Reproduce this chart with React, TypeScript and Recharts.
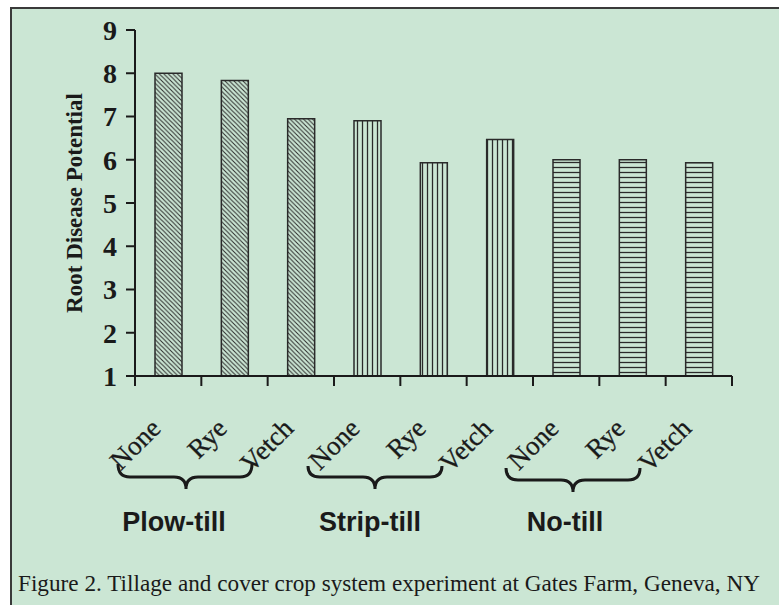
import React from 'react';
import { BarChart, Bar, XAxis, YAxis, Cell } from 'recharts';

// ---- data ----
const tillageSystems = ['Plow-till', 'Strip-till', 'No-till'];
const coverCrops = ['None', 'Rye', 'Vetch'];
const plowTillValues = [8.0, 7.83, 6.95];
const stripTillValues = [6.9, 5.93, 6.47];
const noTillValues = [6.0, 6.0, 5.93];
const yTicks = [1, 2, 3, 4, 5, 6, 7, 8, 9];
const yAxisTitle = 'Root Disease Potential';
const caption = 'Figure 2. Tillage and cover crop system experiment at Gates Farm, Geneva, NY';

const seriesByTillage = [plowTillValues, stripTillValues, noTillValues];
const patternIds = ['patDiag', 'patVert', 'patHoriz'];

const data = tillageSystems.flatMap((t, ti) =>
  coverCrops.map((c, ci) => ({
    key: `${t}|${c}`,
    crop: c,
    value: seriesByTillage[ti][ci],
    pattern: patternIds[ti],
  }))
);

// ---- layout ----
const W = 779;
const H = 605;
const PLOT_LEFT = 135;
const PLOT_RIGHT = 732;
const PLOT_TOP = 30;
const PLOT_BOTTOM = 376;
const Y_AXIS_W = 60;
const BAND = (PLOT_RIGHT - PLOT_LEFT) / data.length;
const INK = '#1a1a1a';
const BG = '#cbe6d4';

const lastKey = data[data.length - 1].key;

const XTick = (props: any) => {
  const { x, y, payload } = props;
  const crop = String(payload.value).split('|')[1];
  const half = BAND / 2;
  const tx = x - 6;
  const ty = y + 54;
  return (
    <g>
      <line x1={x - half} y1={y} x2={x - half} y2={y + 10} stroke={INK} strokeWidth={2} />
      {payload.value === lastKey && (
        <line x1={x + half} y1={y} x2={x + half} y2={y + 10} stroke={INK} strokeWidth={2} />
      )}
      <text
        x={tx}
        y={ty}
        transform={`rotate(-45 ${tx} ${ty})`}
        textAnchor="end"
        fontFamily="'Liberation Serif', 'DejaVu Serif', serif"
        fontSize={27}
        stroke={INK}
        strokeWidth={0.3}
        fill={INK}
      >
        {crop}
      </text>
    </g>
  );
};

const braces = [
  { x0: 118, x1: 252, cx: 186, yEnd: 464, yh: 477, tip: 489 },
  { x0: 308, x1: 442, cx: 375, yEnd: 466, yh: 477, tip: 489 },
  { x0: 506, x1: 640, cx: 573, yEnd: 468, yh: 480, tip: 492 },
];
const groupLabelX = [174, 370, 565];

const bracePath = (b: any) => {
  const r = 12;
  return `M ${b.x0} ${b.yEnd} Q ${b.x0} ${b.yh} ${b.x0 + r} ${b.yh} L ${b.cx - r} ${b.yh} Q ${b.cx} ${b.yh} ${b.cx} ${b.tip} Q ${b.cx} ${b.yh} ${b.cx + r} ${b.yh} L ${b.x1 - r} ${b.yh} Q ${b.x1} ${b.yh} ${b.x1} ${b.yEnd}`;
};

export default function App() {
  return (
    <div style={{ position: 'absolute', left: 0, top: 0, width: W, height: H, background: '#fff', overflow: 'hidden' }}>
      <div
        style={{
          position: 'absolute',
          left: 10,
          top: 7,
          width: W,
          height: H,
          background: BG,
          borderLeft: '2px solid #3a3a3a',
          borderTop: '2px solid #3a3a3a',
        }}
      />
      <div style={{ position: 'absolute', left: 0, top: 0 }}>
        <BarChart
          width={W}
          height={H}
          data={data}
          margin={{ top: PLOT_TOP, right: W - PLOT_RIGHT, bottom: 0, left: PLOT_LEFT - Y_AXIS_W }}
          barSize={27}
        >
          <defs>
            <pattern id="patDiag" patternUnits="userSpaceOnUse" width={4.5} height={4.5}>
              <path d="M0,0 L4.5,4.5 M-1,3.5 L1,5.5 M3.5,-1 L5.5,1" stroke="#2a2a2a" strokeWidth={1} />
            </pattern>
            <pattern id="patVert" patternUnits="userSpaceOnUse" width={5} height={5}>
              <line x1={2.5} y1={0} x2={2.5} y2={5} stroke="#2a2a2a" strokeWidth={1.3} />
            </pattern>
            <pattern id="patHoriz" patternUnits="userSpaceOnUse" width={5} height={5}>
              <line x1={0} y1={2.5} x2={5} y2={2.5} stroke="#2a2a2a" strokeWidth={1.3} />
            </pattern>
          </defs>
          <XAxis
            dataKey="key"
            height={H - PLOT_BOTTOM}
            interval={0}
            tickLine={false}
            tickSize={0}
            tickMargin={0}
            axisLine={{ stroke: INK, strokeWidth: 2 }}
            tick={<XTick />}
          />
          <XAxis xAxisId="top" dataKey="key" orientation="top" height={0} tick={false} tickLine={false} axisLine={{ stroke: INK, strokeWidth: 2 }} />
          <YAxis
            width={Y_AXIS_W}
            domain={[1, 9]}
            ticks={yTicks}
            interval={0}
            tickSize={9}
            tickMargin={9}
            axisLine={{ stroke: INK, strokeWidth: 2 }}
            tickLine={{ stroke: INK, strokeWidth: 2 }}
            tick={{ fontFamily: "'Liberation Serif', serif", fontSize: 28, fontWeight: 'bold', fill: INK }}
          />
          <YAxis yAxisId="right" orientation="right" width={0} domain={[1, 9]} tick={false} tickLine={false} axisLine={{ stroke: INK, strokeWidth: 2 }} />
          <Bar dataKey="value" isAnimationActive={false} stroke="#2a2a2a" strokeWidth={1.5}>
            {data.map((d) => (
              <Cell key={d.key} fill={`url(#${d.pattern})`} />
            ))}
          </Bar>
        </BarChart>
      </div>
      <svg width={W} height={H} style={{ position: 'absolute', left: 0, top: 0, pointerEvents: 'none' }}>
        <text
          x={82}
          y={203}
          transform="rotate(-90 82 203)"
          textAnchor="middle"
          fontFamily="'Liberation Serif', serif"
          fontWeight="bold"
          fontSize={23}
          fill={INK}
        >
          {yAxisTitle}
        </text>
        {braces.map((b, i) => (
          <path key={i} d={bracePath(b)} fill="none" stroke={INK} strokeWidth={3} />
        ))}
        {tillageSystems.map((t, i) => (
          <text
            key={t}
            x={groupLabelX[i]}
            y={531}
            textAnchor="middle"
            fontFamily="'Liberation Sans', Arial, sans-serif"
            fontWeight="bold"
            fontSize={27}
            fill={INK}
          >
            {t}
          </text>
        ))}
        <text
          x={389}
          y={591}
          textAnchor="middle"
          textLength={742}
          lengthAdjust="spacingAndGlyphs"
          fontFamily="'Liberation Serif', serif"
          fontSize={23.5}
          fill={INK}
        >
          {caption}
        </text>
      </svg>
    </div>
  );
}
